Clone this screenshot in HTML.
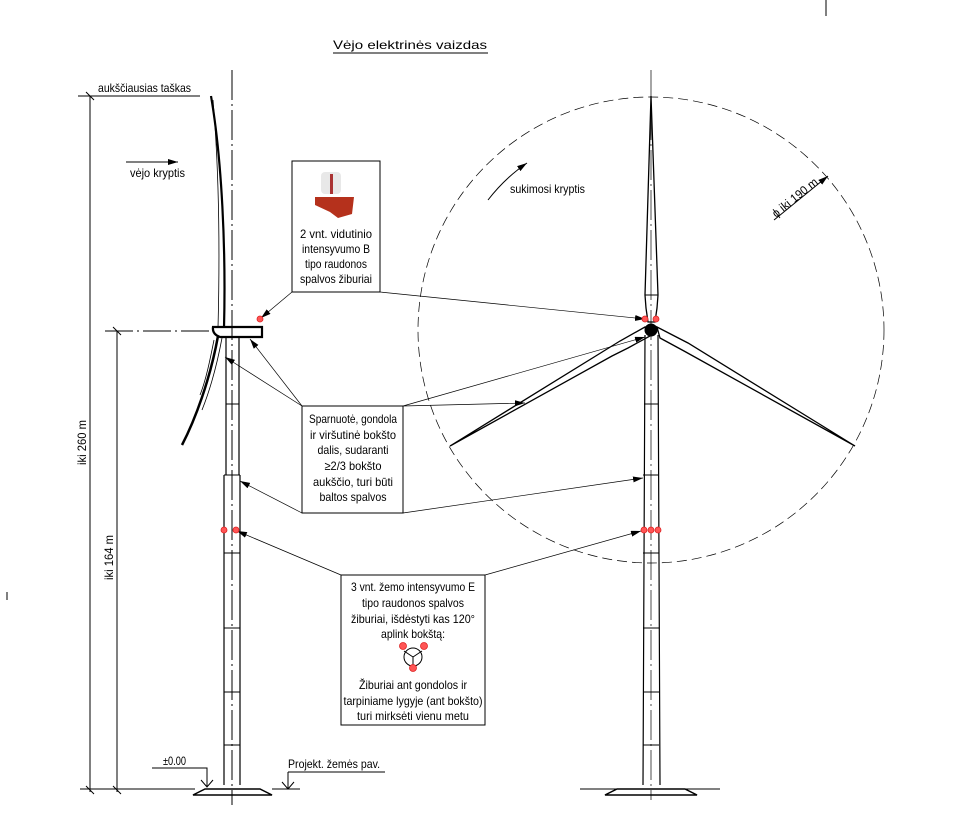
<!DOCTYPE html>
<html><head><meta charset="utf-8"><style>
html,body{margin:0;padding:0;background:#fff}
svg{display:block}
text{font-family:"Liberation Sans",sans-serif;font-size:12px;fill:#000}
</style></head><body>
<svg width="971" height="829" viewBox="0 0 971 829" xmlns="http://www.w3.org/2000/svg">
<defs>
<marker id="a" markerWidth="10" markerHeight="6" refX="10" refY="3" orient="auto" markerUnits="userSpaceOnUse"><path d="M0,0 L10,3 L0,6z" fill="#000"/></marker>
</defs>
<g stroke="#000" fill="none" stroke-width="1">
<line x1="826" y1="0" x2="826" y2="16"/>
<line x1="333" y1="53" x2="488" y2="53"/>
<line x1="78" y1="96" x2="200" y2="96"/>
<line x1="90" y1="96" x2="90" y2="792"/>
<line x1="117" y1="331" x2="117" y2="792"/>
<line x1="105" y1="331" x2="212" y2="331" stroke-dasharray="28,4,2,4"/>
<line x1="86" y1="92" x2="94" y2="100"/><line x1="113" y1="327" x2="121" y2="335"/>
<line x1="86" y1="786" x2="94" y2="794"/><line x1="113" y1="786" x2="121" y2="794"/>
<line x1="80" y1="789" x2="195" y2="789"/>
<line x1="272" y1="789" x2="300" y2="789"/>
<line x1="126" y1="162" x2="178" y2="162" marker-end="url(#a)"/>
<line x1="232" y1="70" x2="232" y2="805" stroke-dasharray="30,4,2,4"/>
<path d="M226,338 L226,475 M239,338 L239,475 M224,475 L224,785 M240,475 L240,785" stroke-width="1.2"/>
<path d="M226,404 H239 M224,475 H240 M224,553 H240 M224,628 H240 M224,692 H240 M224,745 H240"/>
<path d="M193,795 L272,795 L260,789 L205,789 Z" stroke-width="1.5"/>
<path d="M211,96 C222,160 226,250 224,328" stroke-width="2.2"/>
<path d="M213,100 C219,170 220,250 218,328" stroke-width="0.8"/>
<path d="M218,336 C210,380 195,420 182,445" stroke-width="2.5"/>
<path d="M222,338 C216,370 208,395 202,410 M214,340 C210,360 206,380 200,395" stroke-width="0.8"/>
<path d="M213,327 L262,327 L262,337 L220,337 Q212,334 213,327Z" stroke-width="2.2"/>
<path d="M152,768 H207 V786 M201,780 L207,787 L213,780"/>
<path d="M288,772 H385 M288,772 V789 M282,782 L288,789 L294,782"/>
<circle cx="651" cy="330" r="233" stroke-dasharray="10,5" stroke-width="0.7"/>
<line x1="651" y1="70" x2="651" y2="800" stroke-dasharray="30,4,2,4" stroke-width="0.7"/>
<path d="M645,335 L643,785 M658,335 L660,785" stroke-width="1.2"/>
<path d="M644,404 H658 M643,475 H659 M643,553 H659 M643,628 H659 M643,692 H659 M643,745 H659"/>
<path d="M605,795 L697,795 L685,789 L617,789 Z" stroke-width="1.5"/>
<path d="M580,789 H617 M685,789 H720"/>
<path d="M651,96 L645,295 L646,308 L648,322 L655,322 L657,308 L658,295 Z" stroke-width="1.3"/>
<path d="M645,295 H658"/>
<path d="M645,327 L620,341 L450,446 L612,356 L628,348 L650,336 Z" stroke-width="1.3"/>
<path d="M657,327 L688,343 L855,446 L684,351 L660,338 Z" stroke-width="1.3"/>
<circle cx="651" cy="330" r="6" fill="#000"/>
<path d="M488,200 Q505,178 527,163" marker-end="url(#a)"/>
<line x1="774" y1="220" x2="828" y2="176" marker-end="url(#a)"/>
<rect x="292" y="161" width="88" height="131" fill="#fff"/>
<rect x="302" y="406" width="101" height="107" fill="#fff"/>
<rect x="341" y="575" width="144" height="150" fill="#fff"/>
<line x1="380" y1="292" x2="645" y2="319" marker-end="url(#a)" stroke-width="0.7"/>
<line x1="292" y1="292" x2="261" y2="318" marker-end="url(#a)" stroke-width="0.7"/>
<line x1="302" y1="406" x2="250" y2="339" marker-end="url(#a)" stroke-width="0.7"/>
<line x1="302" y1="406" x2="225" y2="357" marker-end="url(#a)" stroke-width="0.7"/>
<line x1="302" y1="513" x2="240" y2="481" marker-end="url(#a)" stroke-width="0.7"/>
<line x1="403" y1="406" x2="645" y2="337" marker-end="url(#a)" stroke-width="0.7"/>
<line x1="403" y1="406" x2="525" y2="403" marker-end="url(#a)" stroke-width="0.7"/>
<line x1="403" y1="513" x2="643" y2="478" marker-end="url(#a)" stroke-width="0.7"/>
<line x1="341" y1="575" x2="237" y2="531" marker-end="url(#a)" stroke-width="0.7"/>
<line x1="485" y1="575" x2="641" y2="531" marker-end="url(#a)" stroke-width="0.7"/>
<circle cx="413" cy="657" r="9"/>
<path d="M413,657 L404,651 M413,657 L422,651 M413,657 V667"/>
<line x1="7" y1="592" x2="7" y2="600"/>
</g>
<g fill="#f55" stroke="#d22" stroke-width="0.8">
<circle cx="260" cy="319" r="3"/>
<circle cx="645" cy="319" r="3"/><circle cx="656" cy="319" r="3"/>
<circle cx="224" cy="530" r="3"/><circle cx="236" cy="530" r="3"/>
<circle cx="644" cy="530" r="3"/><circle cx="651" cy="530" r="3"/><circle cx="658" cy="530" r="3"/>
<circle cx="403" cy="646" r="3.5"/><circle cx="424" cy="646" r="3.5"/><circle cx="413" cy="668" r="3.5"/>
</g>
<rect x="321" y="172" width="20" height="22" fill="#e8e8e8" rx="4"/>
<rect x="330" y="174" width="3" height="20" fill="#a33"/>
<path d="M315,197 L354,197 L352,214 L338,218 L330,212 L315,205Z" fill="#b5311c"/>
<text x="410" y="49" text-anchor="middle" font-size="15" textLength="154" lengthAdjust="spacingAndGlyphs">Vėjo elektrinės vaizdas</text>
<text x="98" y="92" textLength="93" lengthAdjust="spacingAndGlyphs">aukščiausias taškas</text>
<text x="130" y="177" textLength="55" lengthAdjust="spacingAndGlyphs">vėjo kryptis</text>
<text x="510" y="193" textLength="75" lengthAdjust="spacingAndGlyphs">sukimosi kryptis</text>
<text transform="translate(776,218) rotate(-39)" textLength="55" lengthAdjust="spacingAndGlyphs">ϕ iki 190 m</text>
<text transform="translate(86,465) rotate(-90)" textLength="45" lengthAdjust="spacingAndGlyphs">iki 260 m</text>
<text transform="translate(113,580) rotate(-90)" textLength="45" lengthAdjust="spacingAndGlyphs">iki 164 m</text>
<text x="163" y="765" textLength="23" lengthAdjust="spacingAndGlyphs">±0.00</text>
<text x="288" y="768" textLength="92" lengthAdjust="spacingAndGlyphs">Projekt. žemės pav.</text>
<g text-anchor="middle" font-size="13" lengthAdjust="spacingAndGlyphs">
<text x="336" y="238" font-size="13" textLength="72" lengthAdjust="spacingAndGlyphs">2 vnt. vidutinio</text>
<text x="336" y="253" font-size="13" textLength="68" lengthAdjust="spacingAndGlyphs">intensyvumo B</text>
<text x="336" y="268" font-size="13" textLength="62" lengthAdjust="spacingAndGlyphs">tipo raudonos</text>
<text x="336" y="283" font-size="13" textLength="72" lengthAdjust="spacingAndGlyphs">spalvos žiburiai</text>
<text x="353" y="423" font-size="13" textLength="88" lengthAdjust="spacingAndGlyphs">Sparnuotė, gondola</text>
<text x="353" y="439" font-size="13" textLength="86" lengthAdjust="spacingAndGlyphs">ir viršutinė bokšto</text>
<text x="353" y="454" font-size="13" textLength="71" lengthAdjust="spacingAndGlyphs">dalis, sudaranti</text>
<text x="353" y="470" font-size="13" textLength="57" lengthAdjust="spacingAndGlyphs">≥2/3 bokšto</text>
<text x="353" y="486" font-size="13" textLength="80" lengthAdjust="spacingAndGlyphs">aukščio, turi būti</text>
<text x="353" y="501" font-size="13" textLength="67" lengthAdjust="spacingAndGlyphs">baltos spalvos</text>
<text x="413" y="591" font-size="13" textLength="124" lengthAdjust="spacingAndGlyphs">3 vnt. žemo intensyvumo E</text>
<text x="413" y="607" font-size="13" textLength="102" lengthAdjust="spacingAndGlyphs">tipo raudonos spalvos</text>
<text x="413" y="623" font-size="13" textLength="124" lengthAdjust="spacingAndGlyphs">žiburiai, išdėstyti kas 120°</text>
<text x="413" y="638" font-size="13" textLength="64" lengthAdjust="spacingAndGlyphs">aplink bokštą:</text>
<text x="413" y="689" font-size="13" textLength="108" lengthAdjust="spacingAndGlyphs">Žiburiai ant gondolos ir</text>
<text x="413" y="705" font-size="13" textLength="139" lengthAdjust="spacingAndGlyphs">tarpiniame lygyje (ant bokšto)</text>
<text x="413" y="720" font-size="13" textLength="112" lengthAdjust="spacingAndGlyphs">turi mirksėti vienu metu</text>
</g>
</svg>
</body></html>
